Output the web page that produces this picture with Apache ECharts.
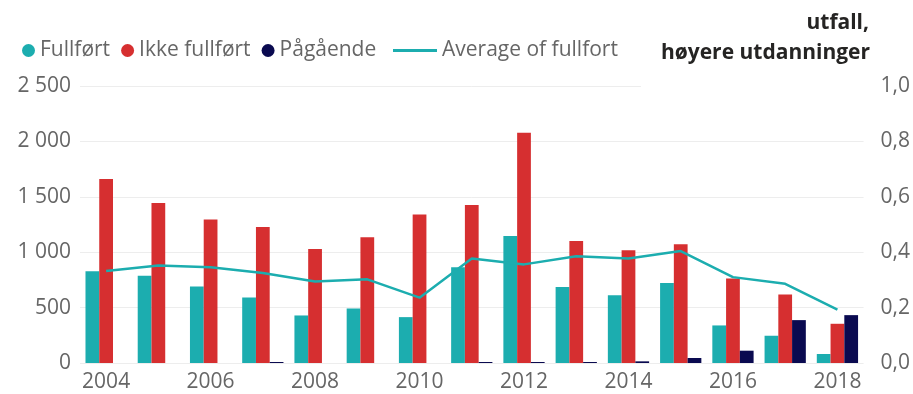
<!DOCTYPE html>
<html>
<head>
<meta charset="utf-8">
<script src="https://cdn.jsdelivr.net/npm/echarts@6/dist/echarts.min.js"></script>
<style>
  html, body { margin: 0; padding: 0; background: #fff; }
  #chart { width: 913px; height: 394px; }
</style>
</head>
<body>
<div id="chart"></div>
<script>
// Completions and dropouts in higher education, by starting year
const years = ['2004','2005','2006','2007','2008','2009','2010','2011','2012','2013','2014','2015','2016','2017','2018'];
const fullfort = [828, 787, 690, 591, 429, 492, 414, 864, 1146, 687, 612, 723, 339, 246, 81];
const ikkeFullfort = [1660, 1444, 1296, 1227, 1029, 1134, 1341, 1425, 2079, 1101, 1017, 1071, 762, 618, 354];
const pagaende = [0, 0, 0, 9, 0, 0, 0, 9, 9, 9, 15, 45, 111, 387, 432];
const averageFullfort = [0.332, 0.352, 0.346, 0.325, 0.294, 0.302, 0.236, 0.377, 0.356, 0.385, 0.377, 0.404, 0.310, 0.286, 0.193];
const leftTicks = { min: 0, max: 2500, interval: 500 };
const rightTicks = { min: 0, max: 1, interval: 0.2 };

const FONT = 'Open Sans';
const FS = 21;
const GREY = '#666666';
const TEAL = '#1CADAF';
const RED = '#D62F30';
const NAVY = '#0A0A50';

const chart = echarts.init(document.getElementById('chart'));

const thousands = v => String(v).replace(/\B(?=(\d{3})+(?!\d))/g, ' ');
const titleStyle = { fontFamily: FONT, fontWeight: 'bold', fontSize: FS, color: '#252423' };

chart.setOption({
  animation: false,
  textStyle: { fontFamily: FONT },
  title: [
    {
      text: 'utfall,',
      right: 44, top: 13, padding: 0,
      textStyle: titleStyle
    },
    {
      // white box also hides the top gridline under the heading
      text: 'høyere utdanninger',
      right: 39, top: 39,
      backgroundColor: '#fff',
      padding: [4, 4, 26, 20],
      textStyle: titleStyle
    }
  ],
  legend: [
    {
      left: 17, top: 35,
      icon: 'circle', itemWidth: 13, itemHeight: 13, itemGap: 11,
      textStyle: { fontFamily: FONT, fontSize: FS, color: GREY, padding: [0, 0, 0, 0] },
      data: ['Fullført', 'Ikke fullført', 'Pågående']
    },
    {
      left: 388, top: 35,
      icon: 'rect', itemWidth: 44, itemHeight: 3,
      textStyle: { fontFamily: FONT, fontSize: FS, color: GREY },
      data: ['Average of fullfort']
    }
  ],
  grid: { left: 80, right: 47, top: 86, bottom: 31, containLabel: false },
  xAxis: {
    type: 'category',
    data: years,
    axisLine: { show: false },
    axisTick: { show: false },
    axisLabel: { interval: 1, color: GREY, fontSize: FS, margin: 9, fontFamily: FONT }
  },
  yAxis: [
    {
      type: 'value',
      min: leftTicks.min, max: leftTicks.max, interval: leftTicks.interval,
      axisLine: { show: false }, axisTick: { show: false },
      splitLine: { lineStyle: { color: '#EDEDED', width: 1 } },
      axisLabel: { color: GREY, fontSize: FS, margin: 9, fontFamily: FONT, formatter: thousands }
    },
    {
      type: 'value',
      min: rightTicks.min, max: rightTicks.max, interval: rightTicks.interval,
      axisLine: { show: false }, axisTick: { show: false },
      splitLine: { show: false },
      axisLabel: { color: GREY, fontSize: FS, margin: 17, fontFamily: FONT,
        formatter: v => v.toFixed(1).replace('.', ',') }
    }
  ],
  series: [
    { name: 'Fullført', type: 'bar', data: fullfort, itemStyle: { color: TEAL },
      barGap: '0%', barCategoryGap: '21%' },
    { name: 'Ikke fullført', type: 'bar', data: ikkeFullfort, itemStyle: { color: RED } },
    { name: 'Pågående', type: 'bar', data: pagaende, itemStyle: { color: NAVY } },
    { name: 'Average of fullfort', type: 'line', yAxisIndex: 1, data: averageFullfort,
      symbol: 'none', lineStyle: { color: TEAL, width: 2.5 }, itemStyle: { color: TEAL }, z: 5 }
  ]
});
</script>
</body>
</html>
